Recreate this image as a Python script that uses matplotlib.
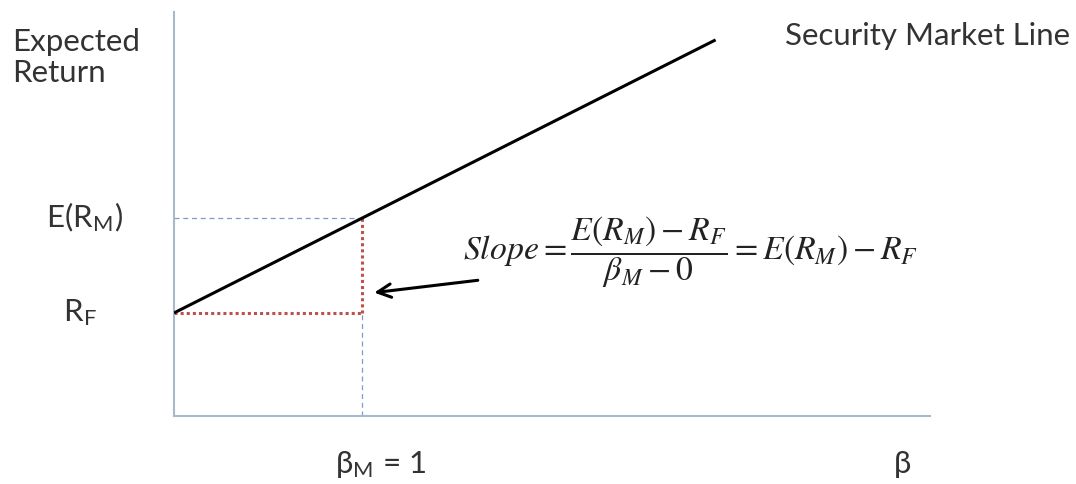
import matplotlib
matplotlib.use("Agg")
import matplotlib.pyplot as plt

# data (arbitrary units)
risk_free = 5.0
market_return = 9.6
beta_market = 1.0
sml_beta = [0.0, 2.88]
sml_return = [risk_free, risk_free + (market_return - risk_free) * 2.88]

plt.rcParams['mathtext.fontset'] = 'stix'
W, H = 1076, 484
fig = plt.figure(figsize=(W / 100, H / 100), dpi=100)
ax = fig.add_axes([174 / W, (H - 416) / H, (930 - 174) / W, (416 - 12) / H])
ax.set_xlim(0, 4.02)
ax.set_ylim(0, 19.6)
for s in ['top', 'right']:
    ax.spines[s].set_visible(False)
for s in ['left', 'bottom']:
    ax.spines[s].set_color('#a9b9cc')
    ax.spines[s].set_linewidth(1.5)
ax.set_xticks([])
ax.set_yticks([])

blue = '#7f9dbf'
red = '#c0504d'
# guide lines
ax.plot([0, beta_market], [market_return, market_return], color=blue, lw=0.9, ls=(0, (4, 3)))
ax.plot([beta_market, beta_market], [0, risk_free], color=blue, lw=0.9, ls=(0, (4, 3)))
ax.plot([0, beta_market], [risk_free, risk_free], color=red, lw=2.2, ls=(0, (1, 1)))
ax.plot([beta_market, beta_market], [risk_free, market_return], color=red, lw=2.2, ls=(0, (1, 1)))
# SML
ax.plot(sml_beta, sml_return, color='black', lw=2.2, solid_capstyle='butt', zorder=5)

# arrow
ax.annotate('', xy=(1.05, 5.97), xytext=(1.63, 6.6),
            arrowprops=dict(arrowstyle='->', color='black', lw=2.2, mutation_scale=24))

tc = '#333333'
font = 'Lato'
fs = 22.5
fig.text(12 / W, 1 - 28 / H, 'Expected\nReturn', fontsize=fs, family=font, color=tc,
         va='top', ha='left', linespacing=1.15)
fig.text(1070 / W, 1 - 36 / H, 'Security Market Line', fontsize=fs, family=font, color=tc,
         va='center', ha='right')
fig.text(85 / W, 1 - 217 / H, r'E(R$_\mathregular{M}$)', fontsize=fs, family=font, color=tc,
         va='center', ha='center')
fig.text(80 / W, 1 - 313 / H, r'R$_\mathregular{F}$', fontsize=fs, family=font, color=tc,
         va='center', ha='center')
fig.text(381 / W, 1 - 464 / H, r'β$_\mathregular{M}$ = 1', fontsize=fs, family=font, color=tc,
         va='center', ha='center')
fig.text(903 / W, 1 - 464 / H, 'β', fontsize=fs, family=font, color=tc,
         va='center', ha='center')

fig.text(463 / W, 1 - 252 / H,
         r'$Slope = \dfrac{E(R_M) - R_F}{\beta_M - 0} = E(R_M) - R_F$',
         fontsize=24.3, color='#222222', va='center', ha='left')

fig.savefig('out.png', dpi=100, facecolor='white')
